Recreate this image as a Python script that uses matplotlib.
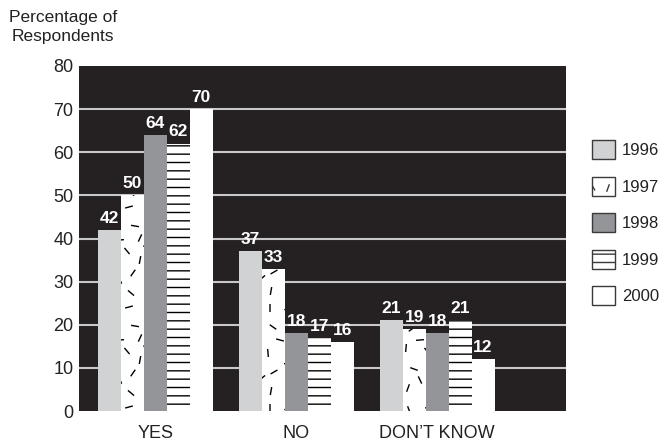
import numpy as np
import matplotlib
matplotlib.use('Agg')
import matplotlib.pyplot as plt
import matplotlib.hatch as mhatch
from matplotlib.path import Path
from matplotlib.patches import Patch

# ---------------- data ----------------
categories = ['YES', 'NO', 'DON\u2019T KNOW']
years = ['1996', '1997', '1998', '1999', '2000']
v1996 = [42, 37, 21]
v1997 = [50, 33, 19]
v1998 = [64, 18, 18]
v1999 = [62, 17, 21]
v2000 = [70, 16, 12]
yticks = [0, 10, 20, 30, 40, 50, 60, 70, 80]
ylabel = 'Percentage of\nRespondents'

# ---------------- custom "scattered dash" hatch (texture only) ----------------
_DASHES = [
    (0.08, 0.12, 70), (0.31, 0.07, -40), (0.52, 0.15, 10), (0.71, 0.09, 80), (0.93, 0.13, -60),
    (0.14, 0.31, -20), (0.33, 0.27, 55), (0.55, 0.34, -75), (0.74, 0.28, 30), (0.88, 0.36, -5),
    (0.06, 0.52, 85), (0.27, 0.49, -50), (0.47, 0.55, 20), (0.68, 0.47, -85), (0.91, 0.54, 45),
    (0.12, 0.71, 35), (0.35, 0.74, -10), (0.52, 0.68, 75), (0.73, 0.73, -35), (0.94, 0.70, 60),
    (0.09, 0.90, -70), (0.29, 0.93, 15), (0.49, 0.88, -55), (0.70, 0.92, 90), (0.88, 0.89, -25),
    (0.20, 0.20, -65), (0.62, 0.22, 40), (0.40, 0.40, 80), (0.80, 0.60, -15), (0.20, 0.60, 5),
    (0.60, 0.80, -80), (0.40, 0.62, 65),
]


class DashHatch(mhatch.HatchPatternBase):
    def __init__(self, hatch, density):
        self.num_dashes = len(_DASHES) if '.' in hatch else 0
        self.num_vertices = self.num_dashes * 2

    def set_vertices_and_codes(self, vertices, codes):
        half = 0.033
        for i, (cx, cy, ang) in enumerate(_DASHES):
            a = np.deg2rad(ang)
            dx, dy = half * np.cos(a), half * np.sin(a)
            vertices[2 * i] = (cx - dx, cy - dy)
            vertices[2 * i + 1] = (cx + dx, cy + dy)
            codes[2 * i] = Path.MOVETO
            codes[2 * i + 1] = Path.LINETO


_ht = mhatch._hatch_types
_ht[_ht.index(mhatch.SmallFilledCircles)] = DashHatch

# ---------------- style ----------------
plt.rcParams['font.family'] = ['Liberation Sans', 'DejaVu Sans']
plt.rcParams['hatch.linewidth'] = 1.0
plt.rcParams['hatch.color'] = 'black'

faces = ['#d1d2d4', 'white', '#939598', 'white', 'white']
hatches = [None, '.', None, '--', None]
bg = '#252122'

fig = plt.figure(figsize=(6.65, 4.43), dpi=100)
ax = fig.add_axes([79 / 665, 1 - 411 / 443, (566 - 79) / 665, (411 - 66) / 443])
ax.set_facecolor(bg)

series = [v1996, v1997, v1998, v1999, v2000]
x = np.arange(len(categories))
w = 0.1624
for i, vals in enumerate(series):
    xs = x + (i - 2) * w
    ax.bar(xs, vals, w, color=faces[i], hatch=hatches[i], edgecolor='black',
           linewidth=0, zorder=2)
    for xi, v in zip(xs, vals):
        ax.annotate(str(v), (xi, v), xytext=(0, 3), textcoords='offset points',
                    ha='center', va='bottom', color='white', fontweight='bold',
                    fontsize=12.5, zorder=3)

for y in yticks[1:-1]:
    ax.axhline(y, color='#c8c8c8', linewidth=1.5, zorder=1)

ax.set_xlim(-0.541, 2.913)
ax.set_ylim(0, 80)
ax.set_yticks(yticks)
ax.set_xticks(x)
ax.set_xticklabels(categories)
ax.tick_params(axis='both', length=0, labelsize=13, colors='#222222')
ax.tick_params(axis='y', pad=4)
ax.tick_params(axis='x', pad=10)
for s in ax.spines.values():
    s.set_visible(False)

fig.text(63 / 665, 1 - 27 / 443, ylabel, ha='center', va='center',
         fontsize=12.5, linespacing=1.3, color='#222222')

handles = [Patch(facecolor=faces[i], edgecolor='#3a3a3a', linewidth=1,
                 hatch=hatches[i]) for i in range(len(years))]
fig.legend(handles, years, loc='upper left', bbox_to_anchor=(592 / 665, 1 - 140 / 443),
           frameon=False, fontsize=12, handlelength=1.38, handleheight=1.38,
           labelspacing=1.05, handletextpad=0.4, borderpad=0, borderaxespad=0,
           labelcolor='#222222')

fig.savefig('out.png', dpi=100)
